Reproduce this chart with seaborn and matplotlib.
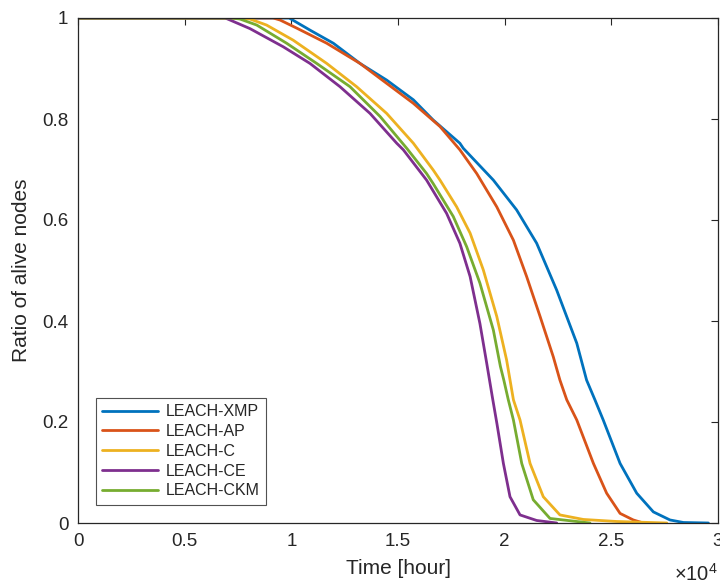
import matplotlib
matplotlib.use("Agg")
import matplotlib.pyplot as plt
import seaborn as sns
import pandas as pd
from matplotlib.ticker import FuncFormatter, FixedLocator

# ---- data (time in hours, ratio of alive nodes) ----
series_names = ["LEACH-XMP", "LEACH-AP", "LEACH-C", "LEACH-CE", "LEACH-CKM"]

xmp_t = [0, 9900, 10875, 11970, 13220, 14470, 15720, 16650, 17900, 18060, 19470,
         20560, 21500, 22440, 23380, 23840, 24230, 24620, 25410, 26190, 26970,
         27750, 28380, 29550]
xmp_r = [1.0, 1.0, 0.976, 0.950, 0.910, 0.877, 0.838, 0.798, 0.752, 0.742, 0.679,
         0.620, 0.554, 0.461, 0.356, 0.283, 0.244, 0.204, 0.118, 0.059, 0.022,
         0.006, 0.001, 0.0]

ap_t = [0, 9150, 9470, 10250, 11660, 13220, 15720, 16970, 17900, 18690, 19630,
        20410, 21030, 21660, 22280, 22590, 22910, 23380, 24160, 24780, 25410,
        26030, 26500]
ap_r = [1.0, 1.0, 0.996, 0.980, 0.950, 0.910, 0.831, 0.785, 0.739, 0.692, 0.626,
        0.560, 0.488, 0.409, 0.329, 0.283, 0.244, 0.204, 0.118, 0.059, 0.019,
        0.006, 0.0]

c_t = [0, 7600, 8060, 8840, 10090, 11660, 13060, 14470, 15720, 16650, 16970,
       17750, 18380, 19000, 19630, 20090, 20410, 20720, 21190, 21810, 22590,
       23690, 25250, 27600]
c_r = [1.0, 1.0, 0.998, 0.986, 0.956, 0.910, 0.864, 0.811, 0.752, 0.699, 0.679,
       0.626, 0.574, 0.501, 0.409, 0.323, 0.244, 0.204, 0.118, 0.052, 0.016,
       0.007, 0.003, 0.0]

ce_t = [0, 6900, 7125, 8060, 9620, 10875, 12280, 13690, 14940, 15250, 16340,
        17280, 17900, 18380, 18840, 19160, 19420, 19640, 19940, 20250, 20720,
        21500, 22440]
ce_r = [1.0, 1.0, 0.996, 0.979, 0.943, 0.910, 0.864, 0.811, 0.752, 0.739, 0.679,
        0.613, 0.554, 0.488, 0.395, 0.316, 0.250, 0.196, 0.118, 0.052, 0.016,
        0.005, 0.0]

ckm_t = [0, 7200, 7590, 8380, 9780, 11190, 12750, 14160, 15410, 16340, 16650,
         17590, 18220, 18840, 19470, 19800, 19960, 20170, 20410, 20800, 21340,
         22125, 24000]
ckm_r = [1.0, 1.0, 0.998, 0.986, 0.950, 0.910, 0.864, 0.805, 0.742, 0.692, 0.672,
         0.607, 0.547, 0.475, 0.382, 0.310, 0.283, 0.244, 0.204, 0.118, 0.046,
         0.009, 0.0]

x_ticks = [0, 5000, 10000, 15000, 20000, 25000, 30000]
y_ticks = [0, 0.2, 0.4, 0.6, 0.8, 1.0]

colors = ["#0072BD", "#D95319", "#EDB120", "#7E2F8E", "#77AC30"]

frames = []
for name, t, r in zip(series_names,
                      [xmp_t, ap_t, c_t, ce_t, ckm_t],
                      [xmp_r, ap_r, c_r, ce_r, ckm_r]):
    frames.append(pd.DataFrame({"time": t, "ratio": r, "protocol": name}))
df = pd.concat(frames, ignore_index=True)

sns.set_theme(style="white")
plt.rcParams["font.family"] = ["Liberation Sans", "DejaVu Sans"]
plt.rcParams["mathtext.fontset"] = "custom"
plt.rcParams["mathtext.rm"] = "Liberation Sans"

fig = plt.figure(figsize=(7.2, 5.88), dpi=100)
ax = fig.add_axes([78 / 720, 1 - 523 / 588, 640 / 720, 505 / 588])

sns.lineplot(data=df, x="time", y="ratio", hue="protocol", hue_order=series_names,
             palette=colors, estimator=None, sort=False, linewidth=2.0, ax=ax)
for ln in ax.get_lines():
    ln.set_solid_joinstyle("round")

ax.set_xlim(0, 30000)
ax.set_ylim(0, 1)
ax.xaxis.set_major_locator(FixedLocator(x_ticks))
ax.yaxis.set_major_locator(FixedLocator(y_ticks))
ax.xaxis.set_major_formatter(FuncFormatter(lambda v, p: f"{v / 1e4:g}"))
ax.yaxis.set_major_formatter(FuncFormatter(lambda v, p: f"{v:g}"))

spine_col = "#262626"
for s in ax.spines.values():
    s.set_color(spine_col)
    s.set_linewidth(0.9)
ax.tick_params(axis="both", which="major", direction="in", length=5, width=0.8,
               color=spine_col, labelsize=13.5, labelcolor="#262626",
               top=True, right=True, pad=7)

ax.set_xlabel("Time [hour]", fontsize=15, color="#262626", labelpad=7)
ax.set_ylabel("Ratio of alive nodes", fontsize=15, color="#262626", labelpad=8)

ax.text(1.0, -0.079, r"$\times10^{4}$", transform=ax.transAxes, ha="right",
        va="top", fontsize=14.5, color="#262626")

leg = ax.legend(loc="lower left", bbox_to_anchor=(0.028, 0.036), borderaxespad=0,
                fontsize=11.5, handlelength=3.5, handletextpad=0.45,
                labelspacing=0.3, frameon=True, fancybox=False,
                borderpad=0.4, title=None)
leg.get_frame().set_edgecolor("#262626")
leg.get_frame().set_linewidth(0.8)
for line in leg.get_lines():
    line.set_linewidth(2.0)

fig.savefig("out.png", dpi=100)
